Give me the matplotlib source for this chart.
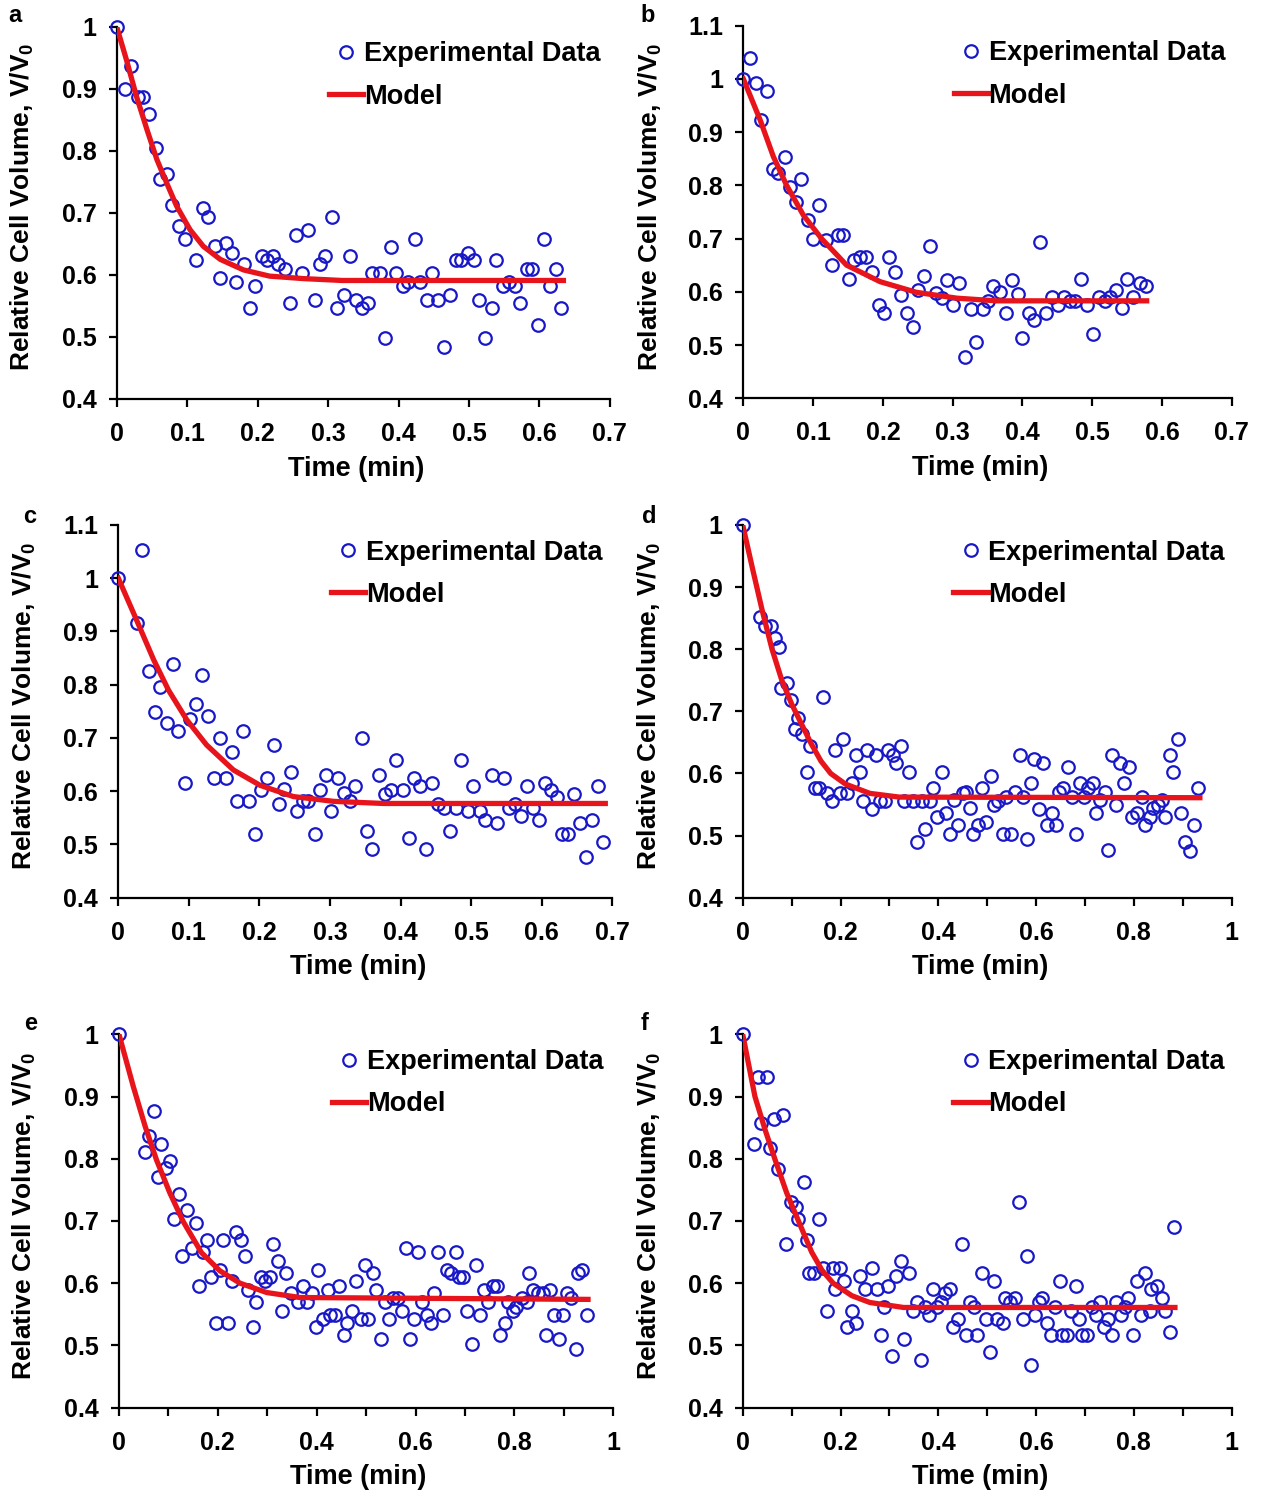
import matplotlib
matplotlib.use("Agg")
import matplotlib.pyplot as plt
from matplotlib.ticker import MultipleLocator, FuncFormatter

plt.rcParams['font.family'] = ['Liberation Sans', 'DejaVu Sans']
plt.rcParams['font.weight'] = 'bold'
plt.rcParams['mathtext.fontset'] = 'custom'
plt.rcParams['mathtext.rm'] = 'Liberation Sans:bold'
plt.rcParams['mathtext.bf'] = 'Liberation Sans:bold'

BLUE = '#1818c8'
RED = '#e8141b'

# ---- panel a ----
a_t = [0, 0.021, 0.012, 0.030, 0.038, 0.046, 0.056, 0.061, 0.072, 0.079, 0.088, 0.097,
       0.113, 0.122, 0.130, 0.139, 0.147, 0.155, 0.164, 0.170, 0.181, 0.189, 0.196, 0.206,
       0.213, 0.222, 0.229, 0.239, 0.246, 0.255, 0.263, 0.272, 0.281, 0.288, 0.296, 0.306,
       0.313, 0.322, 0.331, 0.339, 0.348, 0.357, 0.362, 0.373, 0.381, 0.389, 0.397, 0.406,
       0.414, 0.423, 0.431, 0.440, 0.448, 0.456, 0.465, 0.473, 0.481, 0.489, 0.498, 0.507,
       0.514, 0.522, 0.532, 0.539, 0.548, 0.557, 0.565, 0.573, 0.582, 0.590, 0.598, 0.607,
       0.615, 0.623, 0.631]
a_v = [1.0, 0.936, 0.900, 0.887, 0.887, 0.860, 0.804, 0.755, 0.763, 0.713, 0.678, 0.658,
       0.624, 0.707, 0.693, 0.646, 0.595, 0.651, 0.636, 0.588, 0.617, 0.547, 0.582, 0.630,
       0.624, 0.630, 0.617, 0.610, 0.554, 0.665, 0.603, 0.672, 0.560, 0.617, 0.630, 0.693,
       0.547, 0.567, 0.630, 0.560, 0.547, 0.554, 0.603, 0.603, 0.499, 0.645, 0.603, 0.582,
       0.588, 0.658, 0.588, 0.560, 0.603, 0.560, 0.484, 0.567, 0.624, 0.624, 0.636, 0.624,
       0.560, 0.499, 0.547, 0.624, 0.582, 0.588, 0.582, 0.554, 0.610, 0.610, 0.520, 0.658,
       0.582, 0.610, 0.547]
a_mt = [0, 0.014, 0.028, 0.043, 0.057, 0.071, 0.085, 0.104, 0.123, 0.147, 0.180, 0.217,
        0.265, 0.320, 0.634]
a_mv = [1.0, 0.946, 0.888, 0.834, 0.786, 0.748, 0.711, 0.673, 0.646, 0.625, 0.608, 0.598,
        0.594, 0.591, 0.591]

# ---- panel b ----
b_t = [0, 0.009, 0.018, 0.034, 0.025, 0.042, 0.050, 0.060, 0.067, 0.075, 0.083, 0.092,
       0.100, 0.108, 0.118, 0.127, 0.135, 0.143, 0.151, 0.159, 0.167, 0.176, 0.185, 0.194,
       0.202, 0.209, 0.217, 0.226, 0.234, 0.243, 0.251, 0.259, 0.268, 0.276, 0.284, 0.292,
       0.301, 0.309, 0.318, 0.326, 0.333, 0.343, 0.351, 0.358, 0.368, 0.376, 0.385, 0.393,
       0.400, 0.409, 0.417, 0.425, 0.434, 0.442, 0.451, 0.459, 0.468, 0.476, 0.484, 0.493,
       0.501, 0.509, 0.518, 0.526, 0.534, 0.543, 0.550, 0.559, 0.569, 0.577]
b_v = [1.0, 1.040, 0.992, 0.977, 0.923, 0.831, 0.824, 0.853, 0.796, 0.769, 0.811, 0.735,
       0.699, 0.763, 0.697, 0.650, 0.706, 0.706, 0.624, 0.659, 0.666, 0.666, 0.637, 0.575,
       0.561, 0.666, 0.637, 0.594, 0.561, 0.533, 0.603, 0.630, 0.686, 0.597, 0.588, 0.623,
       0.575, 0.616, 0.478, 0.568, 0.505, 0.568, 0.583, 0.610, 0.600, 0.561, 0.623, 0.595,
       0.513, 0.561, 0.547, 0.693, 0.561, 0.590, 0.575, 0.590, 0.582, 0.582, 0.624, 0.575,
       0.520, 0.590, 0.582, 0.590, 0.603, 0.569, 0.624, 0.590, 0.617, 0.610]
b_mt = [0, 0.024, 0.043, 0.062, 0.086, 0.112, 0.148, 0.196, 0.248, 0.306, 0.363, 0.578]
b_mv = [1.0, 0.923, 0.854, 0.800, 0.744, 0.700, 0.650, 0.619, 0.599, 0.588, 0.583, 0.583]

# ---- panel c ----
c_t = [0, 0.026, 0.034, 0.043, 0.052, 0.059, 0.069, 0.077, 0.085, 0.094, 0.102, 0.110,
       0.119, 0.127, 0.136, 0.144, 0.153, 0.161, 0.168, 0.177, 0.185, 0.194, 0.202, 0.211,
       0.220, 0.228, 0.235, 0.244, 0.253, 0.261, 0.269, 0.278, 0.286, 0.294, 0.302, 0.311,
       0.320, 0.328, 0.335, 0.345, 0.353, 0.360, 0.370, 0.378, 0.386, 0.394, 0.403, 0.412,
       0.419, 0.427, 0.436, 0.445, 0.453, 0.462, 0.470, 0.479, 0.486, 0.495, 0.503, 0.512,
       0.520, 0.529, 0.536, 0.546, 0.554, 0.562, 0.571, 0.579, 0.587, 0.596, 0.605, 0.613,
       0.621, 0.628, 0.637, 0.646, 0.654, 0.663, 0.671, 0.679, 0.687]
c_v = [1.0, 0.915, 1.053, 0.825, 0.748, 0.796, 0.728, 0.839, 0.714, 0.616, 0.735, 0.763,
       0.818, 0.741, 0.624, 0.700, 0.624, 0.673, 0.582, 0.714, 0.582, 0.520, 0.603, 0.624,
       0.686, 0.576, 0.604, 0.637, 0.562, 0.582, 0.582, 0.520, 0.603, 0.631, 0.562, 0.624,
       0.596, 0.582, 0.610, 0.700, 0.526, 0.492, 0.631, 0.595, 0.603, 0.659, 0.603, 0.513,
       0.624, 0.610, 0.492, 0.616, 0.576, 0.568, 0.526, 0.568, 0.659, 0.562, 0.610, 0.562,
       0.546, 0.631, 0.540, 0.624, 0.568, 0.576, 0.554, 0.610, 0.568, 0.546, 0.616, 0.603,
       0.589, 0.520, 0.520, 0.595, 0.540, 0.477, 0.546, 0.610, 0.504]
c_mt = [0, 0.026, 0.050, 0.071, 0.097, 0.125, 0.163, 0.201, 0.248, 0.305, 0.376, 0.690]
c_mv = [1.0, 0.921, 0.847, 0.790, 0.734, 0.687, 0.640, 0.611, 0.590, 0.581, 0.577, 0.577]

# ---- panel d ----
d_t = [0, 0.035, 0.046, 0.057, 0.067, 0.075, 0.078, 0.091, 0.098, 0.106, 0.114, 0.121,
       0.131, 0.138, 0.147, 0.157, 0.165, 0.173, 0.182, 0.189, 0.198, 0.206, 0.214, 0.224,
       0.231, 0.240, 0.247, 0.255, 0.264, 0.272, 0.281, 0.290, 0.298, 0.308, 0.313, 0.324,
       0.330, 0.340, 0.348, 0.357, 0.366, 0.373, 0.383, 0.390, 0.398, 0.407, 0.416, 0.423,
       0.432, 0.440, 0.450, 0.457, 0.464, 0.472, 0.482, 0.489, 0.497, 0.508, 0.514, 0.523,
       0.532, 0.539, 0.549, 0.557, 0.567, 0.574, 0.581, 0.589, 0.596, 0.607, 0.615, 0.622,
       0.632, 0.641, 0.646, 0.656, 0.665, 0.673, 0.682, 0.689, 0.697, 0.706, 0.716, 0.723,
       0.731, 0.740, 0.748, 0.756, 0.763, 0.772, 0.780, 0.790, 0.796, 0.806, 0.816, 0.822,
       0.832, 0.840, 0.849, 0.858, 0.864, 0.873, 0.881, 0.891, 0.896, 0.905, 0.915, 0.922,
       0.932]
d_v = [1.0, 0.852, 0.838, 0.838, 0.818, 0.804, 0.738, 0.745, 0.718, 0.671, 0.690, 0.663,
       0.603, 0.644, 0.577, 0.577, 0.723, 0.569, 0.555, 0.637, 0.569, 0.656, 0.569, 0.585,
       0.629, 0.603, 0.555, 0.637, 0.543, 0.629, 0.555, 0.555, 0.637, 0.629, 0.617, 0.644,
       0.555, 0.603, 0.555, 0.489, 0.555, 0.510, 0.555, 0.577, 0.530, 0.603, 0.536, 0.503,
       0.557, 0.517, 0.569, 0.570, 0.544, 0.503, 0.517, 0.577, 0.522, 0.596, 0.549, 0.555,
       0.503, 0.562, 0.503, 0.570, 0.629, 0.562, 0.495, 0.584, 0.624, 0.543, 0.617, 0.517,
       0.536, 0.517, 0.570, 0.577, 0.611, 0.562, 0.503, 0.584, 0.562, 0.577, 0.584, 0.536,
       0.557, 0.570, 0.477, 0.629, 0.549, 0.617, 0.584, 0.611, 0.530, 0.536, 0.562, 0.517,
       0.530, 0.544, 0.549, 0.557, 0.530, 0.629, 0.603, 0.656, 0.536, 0.489, 0.476, 0.517,
       0.577]
d_mt = [0, 0.020, 0.040, 0.060, 0.080, 0.100, 0.120, 0.140, 0.160, 0.180, 0.210, 0.260,
        0.320, 0.935]
d_mv = [1.0, 0.930, 0.862, 0.800, 0.750, 0.712, 0.680, 0.648, 0.620, 0.600, 0.583, 0.568,
        0.562, 0.561]

# ---- panel e ----
e_t = [0, 0.053, 0.061, 0.071, 0.078, 0.086, 0.096, 0.103, 0.111, 0.121, 0.128, 0.137,
       0.147, 0.155, 0.162, 0.171, 0.179, 0.187, 0.196, 0.204, 0.211, 0.221, 0.229, 0.236,
       0.246, 0.254, 0.262, 0.272, 0.278, 0.287, 0.295, 0.305, 0.312, 0.322, 0.330, 0.338,
       0.349, 0.363, 0.372, 0.380, 0.390, 0.398, 0.403, 0.412, 0.422, 0.427, 0.437, 0.446,
       0.455, 0.461, 0.472, 0.479, 0.489, 0.498, 0.504, 0.513, 0.521, 0.531, 0.538, 0.547,
       0.555, 0.564, 0.572, 0.581, 0.589, 0.597, 0.606, 0.614, 0.624, 0.631, 0.638, 0.646,
       0.656, 0.663, 0.672, 0.681, 0.687, 0.697, 0.705, 0.714, 0.722, 0.730, 0.738, 0.747,
       0.756, 0.764, 0.771, 0.781, 0.788, 0.798, 0.804, 0.815, 0.825, 0.830, 0.838, 0.848,
       0.857, 0.864, 0.873, 0.880, 0.890, 0.899, 0.906, 0.914, 0.924, 0.929, 0.937, 0.947]
e_v = [1.0, 0.811, 0.837, 0.877, 0.771, 0.823, 0.785, 0.797, 0.703, 0.743, 0.643, 0.717,
       0.656, 0.696, 0.596, 0.650, 0.670, 0.610, 0.536, 0.622, 0.670, 0.536, 0.603, 0.683,
       0.670, 0.643, 0.589, 0.529, 0.569, 0.610, 0.603, 0.610, 0.663, 0.636, 0.555, 0.616,
       0.584, 0.569, 0.596, 0.569, 0.584, 0.529, 0.622, 0.543, 0.589, 0.549, 0.549, 0.596,
       0.517, 0.536, 0.555, 0.603, 0.543, 0.629, 0.543, 0.616, 0.589, 0.510, 0.569, 0.543,
       0.577, 0.577, 0.555, 0.656, 0.510, 0.543, 0.650, 0.569, 0.549, 0.536, 0.584, 0.650,
       0.549, 0.622, 0.616, 0.650, 0.610, 0.610, 0.555, 0.502, 0.629, 0.549, 0.589, 0.569,
       0.596, 0.596, 0.517, 0.536, 0.569, 0.555, 0.562, 0.577, 0.569, 0.616, 0.589, 0.584,
       0.584, 0.517, 0.589, 0.549, 0.510, 0.549, 0.584, 0.577, 0.495, 0.616, 0.622, 0.549]
e_mt = [0, 0.029, 0.053, 0.076, 0.103, 0.130, 0.167, 0.204, 0.245, 0.299, 0.366, 0.949]
e_mv = [1.0, 0.916, 0.852, 0.798, 0.745, 0.699, 0.649, 0.620, 0.600, 0.585, 0.577, 0.574]

# ---- panel f ----
f_t = [0, 0.023, 0.032, 0.037, 0.050, 0.055, 0.063, 0.073, 0.082, 0.089, 0.098, 0.108,
       0.114, 0.125, 0.131, 0.136, 0.145, 0.155, 0.165, 0.172, 0.184, 0.189, 0.199, 0.208,
       0.214, 0.224, 0.232, 0.240, 0.250, 0.264, 0.274, 0.282, 0.289, 0.298, 0.306, 0.313,
       0.323, 0.330, 0.340, 0.348, 0.357, 0.364, 0.373, 0.381, 0.389, 0.398, 0.406, 0.414,
       0.423, 0.431, 0.440, 0.448, 0.456, 0.464, 0.473, 0.480, 0.489, 0.497, 0.506, 0.513,
       0.521, 0.532, 0.536, 0.547, 0.557, 0.565, 0.573, 0.581, 0.590, 0.598, 0.605, 0.613,
       0.623, 0.631, 0.639, 0.649, 0.654, 0.664, 0.671, 0.681, 0.688, 0.694, 0.705, 0.714,
       0.722, 0.731, 0.739, 0.748, 0.756, 0.763, 0.773, 0.781, 0.789, 0.799, 0.806, 0.815,
       0.823, 0.832, 0.836, 0.847, 0.857, 0.864, 0.874, 0.882]
f_v = [1.0, 0.824, 0.931, 0.857, 0.931, 0.818, 0.864, 0.784, 0.870, 0.663, 0.730, 0.723,
       0.703, 0.763, 0.670, 0.617, 0.617, 0.703, 0.624, 0.555, 0.624, 0.590, 0.624, 0.604,
       0.530, 0.555, 0.536, 0.611, 0.590, 0.624, 0.590, 0.517, 0.562, 0.596, 0.483, 0.611,
       0.636, 0.510, 0.617, 0.555, 0.570, 0.476, 0.562, 0.549, 0.590, 0.562, 0.570, 0.584,
       0.590, 0.529, 0.543, 0.663, 0.517, 0.570, 0.562, 0.517, 0.617, 0.543, 0.489, 0.603,
       0.543, 0.536, 0.577, 0.570, 0.577, 0.730, 0.543, 0.643, 0.469, 0.549, 0.570, 0.577,
       0.536, 0.517, 0.562, 0.603, 0.517, 0.517, 0.555, 0.596, 0.543, 0.517, 0.517, 0.562,
       0.549, 0.570, 0.529, 0.543, 0.517, 0.570, 0.549, 0.562, 0.577, 0.517, 0.603, 0.549,
       0.617, 0.555, 0.590, 0.596, 0.577, 0.555, 0.522, 0.690]
f_mt = [0, 0.025, 0.046, 0.066, 0.090, 0.114, 0.141, 0.162, 0.185, 0.223, 0.260, 0.329, 0.884]
f_mv = [1.0, 0.900, 0.846, 0.799, 0.745, 0.700, 0.650, 0.621, 0.600, 0.580, 0.569, 0.561, 0.561]

panels = [
    ('a', a_t, a_v, a_mt, a_mv, 0.7, 1.0),
    ('b', b_t, b_v, b_mt, b_mv, 0.7, 1.1),
    ('c', c_t, c_v, c_mt, c_mv, 0.7, 1.1),
    ('d', d_t, d_v, d_mt, d_mv, 1.0, 1.0),
    ('e', e_t, e_v, e_mt, e_mv, 1.0, 1.0),
    ('f', f_t, f_v, f_mt, f_mv, 1.0, 1.0),
]

# axes rectangles in figure fractions
rects = [
    [0.0921, 0.7324, 0.3893, 0.2497],
    [0.5867, 0.7329, 0.3855, 0.2499],
    [0.0934, 0.3979, 0.3899, 0.2500],
    [0.5862, 0.3979, 0.3859, 0.2500],
    [0.0939, 0.0559, 0.3901, 0.2504],
    [0.5862, 0.0559, 0.3859, 0.2504],
]
letter_pos = [(15, 15), (648, 15), (30, 516), (649, 516), (31, 1023), (645, 1023)]

W, H = 1267, 1491
fig = plt.figure(figsize=(W / 100, H / 100), dpi=100)

def fmt(v, pos):
    return '%g' % round(v, 2)

for (name, t, v, mt, mv, xmax, ymax), r, lp in zip(panels, rects, letter_pos):
    ax = fig.add_axes(r)
    ax.plot(t, v, 'o', ms=9, mfc='none', mec=BLUE, mew=1.6, label='Experimental Data',
            clip_on=False, zorder=3)
    ax.plot(mt, mv, '-', color=RED, lw=3.8, label='Model', zorder=4,
            solid_joinstyle='round')
    ax.set_xlim(0, xmax)
    ax.set_ylim(0.4, ymax)
    if xmax < 0.9:
        ax.xaxis.set_major_locator(MultipleLocator(0.1))
    else:
        ax.xaxis.set_major_locator(MultipleLocator(0.2))
        ax.xaxis.set_minor_locator(MultipleLocator(0.1))
    ax.yaxis.set_major_locator(MultipleLocator(0.1))
    ax.xaxis.set_major_formatter(FuncFormatter(fmt))
    ax.yaxis.set_major_formatter(FuncFormatter(fmt))
    for s in ['top', 'right']:
        ax.spines[s].set_visible(False)
    for s in ['left', 'bottom']:
        ax.spines[s].set_linewidth(1.6)
    ax.tick_params(which='both', direction='out', length=5.5, width=1.6, labelsize=18, pad=9)
    ax.tick_params(axis='x', pad=11)
    for lab in ax.get_xticklabels() + ax.get_yticklabels():
        lab.set_fontweight('bold')
    ax.set_xlabel('Time (min)', fontsize=19.5, fontweight='bold')
    ax.xaxis.set_label_coords(0.485, -0.152)
    ax.set_ylabel(r'Relative Cell Volume, V/V$_\mathbf{0}$', fontsize=19, fontweight='bold')
    ax.yaxis.set_label_coords(-0.163, 0.515)
    ax.legend(loc='upper left', bbox_to_anchor=(0.42, 0.975), frameon=False,
              handlelength=1.26, handletextpad=0.02, labelspacing=0.6,
              borderaxespad=0, borderpad=0.2, prop={'weight': 'bold', 'size': 19.5})
    fig.text(lp[0] / W, 1 - lp[1] / H, name, fontsize=17, fontweight='bold',
             ha='center', va='center')

fig.savefig('out.png', dpi=100)
